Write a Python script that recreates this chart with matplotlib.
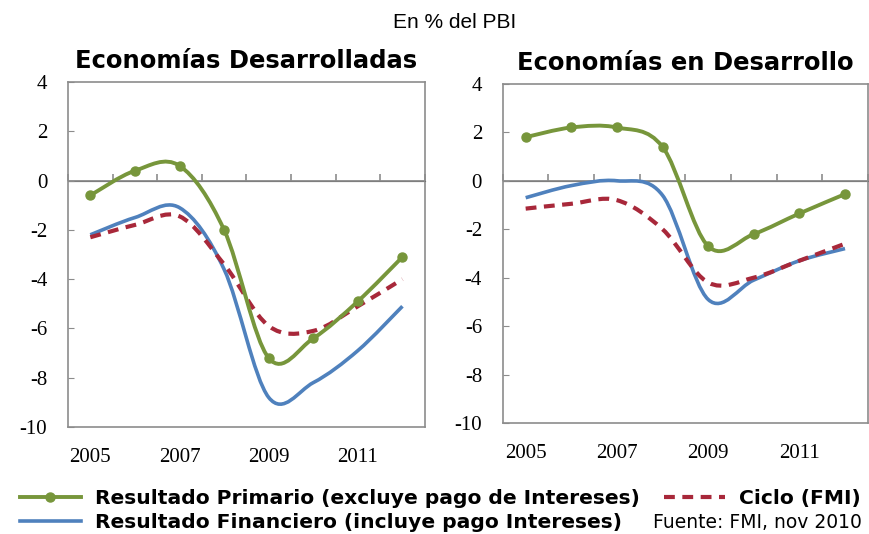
import numpy as np
import matplotlib
matplotlib.use("Agg")
import matplotlib.pyplot as plt
from matplotlib.path import Path
from matplotlib.patches import PathPatch
from matplotlib.lines import Line2D

plt.rcParams["axes.unicode_minus"] = False

years = ["2005", "2006", "2007", "2008", "2009", "2010", "2011", "2012"]

# Economias desarrolladas
des_primario = [-0.6, 0.4, 0.6, -2.0, -7.2, -6.4, -4.9, -3.1]
des_financiero = [-2.2, -1.5, -1.1, -3.6, -8.8, -8.2, -6.9, -5.1]
des_ciclo = [-2.3, -1.8, -1.45, -3.4, -5.9, -6.1, -5.1, -4.0]

# Economias en desarrollo
edd_primario = [1.8, 2.2, 2.2, 1.4, -2.7, -2.2, -1.35, -0.55]
edd_financiero = [-0.7, -0.2, 0.0, -0.6, -4.9, -4.1, -3.3, -2.8]
edd_ciclo = [-1.15, -0.95, -0.8, -2.0, -4.2, -4.0, -3.3, -2.6]

GREEN = "#77963b"
BLUE = "#4f81bd"
RED = "#a8283a"
GRIS = "#8c8c8c"
DASH = (0, (2.6, 1.8))


def smooth_path(xs, ys):
    # curva suavizada tipo Excel (Catmull-Rom como Bezier)
    p = np.column_stack([xs, ys]).astype(float)
    ext = np.vstack([p[0], p, p[-1]])
    verts = [p[0]]
    codes = [Path.MOVETO]
    for i in range(len(p) - 1):
        a, b, c, d = ext[i], ext[i + 1], ext[i + 2], ext[i + 3]
        verts += [b + (c - a) / 6, c - (d - b) / 6, c]
        codes += [Path.CURVE4] * 3
    return Path(verts, codes)


def panel(ax, prim, fin, ciclo, title):
    x = np.arange(len(years))
    ax.add_patch(PathPatch(smooth_path(x, fin), fill=False, ec=BLUE, lw=2.6,
                           transform=ax.transData, zorder=3))
    ax.add_patch(PathPatch(smooth_path(x, ciclo), fill=False, ec=RED, lw=3.0,
                           ls=DASH, transform=ax.transData, zorder=4))
    ax.add_patch(PathPatch(smooth_path(x, prim), fill=False, ec=GREEN, lw=2.8,
                           transform=ax.transData, zorder=5))
    ax.plot(x, prim, ls="none", marker="o", ms=6.5, color=GREEN, zorder=6)

    ax.set_xlim(-0.5, len(years) - 0.5)
    ax.set_ylim(-10, 4)
    ax.axhline(0, color=GRIS, lw=1.3, zorder=2)

    ax.set_yticks(range(-10, 5, 2))
    ax.tick_params(axis="y", direction="in", length=4, color=GRIS,
                   labelsize=15, pad=15)
    ax.set_xticks(x[::2])
    ax.set_xticklabels(years[::2])
    ax.tick_params(axis="x", length=0, labelsize=15, pad=15)
    for lab in ax.get_xticklabels() + ax.get_yticklabels():
        lab.set_family("Liberation Serif")
    for s in ax.spines.values():
        s.set_color(GRIS)
        s.set_linewidth(1.2)

    # marcas de categoria sobre la linea del cero
    sec = ax.secondary_xaxis(10 / 14)
    sec.set_xticks(np.arange(len(years) + 1) - 0.5)
    sec.set_xticklabels([])
    sec.tick_params(direction="out", length=5, color=GRIS, width=1.2)
    sec.spines["bottom"].set_visible(False)

    ax.set_title(title, fontsize=17.5, fontweight="bold", family="DejaVu Sans",
                 pad=10)


fig = plt.figure(figsize=(8.7, 5.34), dpi=100)
ax1 = fig.add_axes([0.0782, 0.2004, 0.410, 0.646])
ax2 = fig.add_axes([0.578, 0.2079, 0.4195, 0.635])

panel(ax1, des_primario, des_financiero, des_ciclo, "Economías Desarrolladas")
panel(ax2, edd_primario, edd_financiero, edd_ciclo, "Economías en Desarrollo")

fig.text(0.523, 0.957, "En % del PBI", ha="center", va="center", fontsize=15,
         family="Liberation Sans")

handles = [
    Line2D([], [], color=GREEN, lw=2.8, marker="o", ms=6.5),
    Line2D([], [], color=BLUE, lw=2.6),
    Line2D([], [], color=RED, lw=3.0, ls=DASH),
]
labels = [
    "Resultado Primario (excluye pago de Intereses)",
    "Resultado Financiero (incluye pago Intereses)",
    "Ciclo (FMI)",
]
leg = fig.legend(handles, labels, ncol=2, loc="center left",
                 bbox_to_anchor=(0.023, 0.044), frameon=False,
                 prop={"family": "DejaVu Sans", "weight": "bold", "size": 14.6},
                 handlelength=3.0, columnspacing=1.2, labelspacing=0.22,
                 handletextpad=0.7, borderpad=0, borderaxespad=0)

fig.text(0.991, 0.022, "Fuente: FMI, nov 2010", ha="right", va="center",
         fontsize=13.5, family="DejaVu Sans")

fig.savefig("out.png", dpi=100)
